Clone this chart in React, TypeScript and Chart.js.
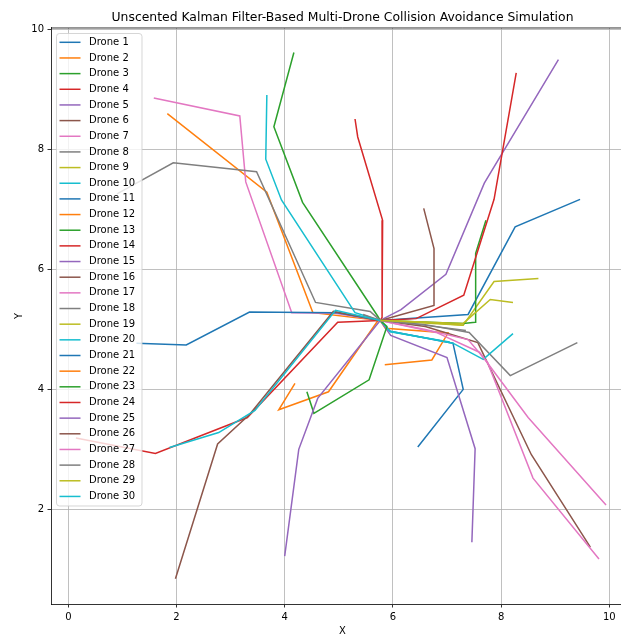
import React, { useEffect, useRef } from "react";
import { Chart, registerables } from "chart.js";

Chart.register(...registerables);

const TITLE = "Unscented Kalman Filter-Based Multi-Drone Collision Avoidance Simulation";
const X_LABEL = "X";
const Y_LABEL = "Y";
const xTicks = [0, 2, 4, 6, 8, 10];
const yTicks = [2, 4, 6, 8, 10];
const palette = ["#1f77b4", "#ff7f0e", "#2ca02c", "#d62728", "#9467bd", "#8c564b", "#e377c2", "#7f7f7f", "#bcbd22", "#17becf"];

// Trajectories (x, y)
const d1x = [6.46, 7.30, 7.11, 5.95, 5.765];
const d1y = [3.04, 4.00, 4.77, 4.97, 5.15];
const d2x = [1.83, 3.67, 4.52, 5.765];
const d2y = [8.60, 7.29, 5.28, 5.15];
const d3x = [4.17, 3.80, 4.33, 5.72, 5.765];
const d3y = [9.62, 8.38, 7.12, 5.22, 5.15];
const d4x = [5.30, 5.35, 5.81, 5.80, 5.765];
const d4y = [8.51, 8.21, 6.82, 5.20, 5.15];
const d5x = [5.765, 6.15, 6.98, 7.69, 9.06];
const d5y = [5.15, 5.33, 5.92, 7.44, 9.50];
const d6x = [6.57, 6.76, 6.76, 5.765];
const d6y = [7.02, 6.35, 5.40, 5.15];
const d7x = [1.58, 3.17, 3.28, 4.13, 4.93, 5.765];
const d7y = [8.86, 8.56, 7.46, 5.28, 5.27, 5.15];
const d8x = [0.90, 1.94, 3.48, 4.57, 5.58, 5.765];
const d8y = [7.26, 7.78, 7.63, 5.45, 5.30, 5.15];
const d9x = [5.765, 7.30, 7.87, 8.69];
const d9y = [5.15, 5.07, 5.80, 5.85];
const d10x = [3.67, 3.65, 3.94, 5.30, 5.765, 5.95, 7.05];
const d10y = [8.91, 7.84, 7.16, 5.28, 5.15, 4.96, 4.79];
const d11x = [5.765, 7.39, 8.26, 9.46];
const d11y = [5.15, 5.25, 6.71, 7.17];
const d12x = [5.765, 5.86, 7.02, 6.72, 5.85];
const d12y = [5.15, 5.02, 4.94, 4.49, 4.41];
const d13x = [5.765, 7.30, 7.52, 7.53, 7.72];
const d13y = [5.15, 5.10, 5.12, 6.27, 6.82];
const d14x = [5.765, 6.43, 7.31, 7.87, 8.28];
const d14y = [5.15, 5.18, 5.57, 7.17, 9.28];
const d15x = [5.765, 5.96, 7.00, 7.52, 7.46];
const d15y = [5.15, 4.90, 4.53, 3.01, 1.45];
const d16x = [5.765, 6.60, 7.57, 8.56, 9.65];
const d16y = [5.15, 5.05, 4.78, 2.91, 1.37];
const d17x = [5.765, 6.60, 7.39, 7.75, 8.59, 9.81];
const d17y = [5.15, 5.00, 4.83, 4.45, 2.52, 1.17];
const d18x = [5.765, 6.60, 7.41, 8.17, 9.41];
const d18y = [5.15, 5.08, 4.95, 4.23, 4.78];
const d19x = [5.765, 7.30, 7.80, 8.22];
const d19y = [5.15, 5.10, 5.50, 5.45];
const d20x = [5.765, 5.95, 7.11, 7.67, 8.22];
const d20y = [5.15, 4.97, 4.77, 4.50, 4.93];
const d21x = [1.26, 2.18, 3.35, 4.95, 5.765];
const d21y = [4.77, 4.74, 5.29, 5.28, 5.15];
const d22x = [4.19, 3.89, 4.81, 5.74];
const d22y = [4.10, 3.66, 3.96, 5.17];
const d23x = [4.41, 4.54, 5.56, 5.89, 5.765];
const d23y = [3.96, 3.60, 4.16, 5.05, 5.15];
const d24x = [0.14, 1.61, 3.31, 4.98, 5.765];
const d24y = [3.19, 2.93, 3.53, 5.12, 5.15];
const d25x = [4.00, 4.26, 4.61, 5.765];
const d25y = [1.22, 3.00, 3.85, 5.15];
const d26x = [1.98, 2.76, 3.35, 4.90, 5.765];
const d26y = [0.84, 3.09, 3.58, 5.30, 5.15];
const d27x = [5.765, 6.80, 7.60, 8.50, 9.94];
const d27y = [5.15, 4.95, 4.62, 3.53, 2.07];
const d28x = [5.45, 5.765, 6.50, 7.35];
const d28y = [5.25, 5.15, 5.08, 4.98];
const d29x = [5.765, 6.60, 7.30];
const d29y = [5.15, 5.12, 5.07];
const d30x = [1.87, 2.78, 3.45, 4.94, 5.765];
const d30y = [3.03, 3.28, 3.65, 5.32, 5.15];

const droneX = [d1x, d2x, d3x, d4x, d5x, d6x, d7x, d8x, d9x, d10x, d11x, d12x, d13x, d14x, d15x, d16x, d17x, d18x, d19x, d20x, d21x, d22x, d23x, d24x, d25x, d26x, d27x, d28x, d29x, d30x];
const droneY = [d1y, d2y, d3y, d4y, d5y, d6y, d7y, d8y, d9y, d10y, d11y, d12y, d13y, d14y, d15y, d16y, d17y, d18y, d19y, d20y, d21y, d22y, d23y, d24y, d25y, d26y, d27y, d28y, d29y, d30y];

const FONT = "'DejaVu Sans', sans-serif";

const mplPlugin = {
  id: "mplExtras",
  afterDraw(chart: any) {
    const ctx = chart.ctx;
    const ca = chart.chartArea;
    ctx.save();
    // top and right spines
    ctx.strokeStyle = "#000";
    ctx.lineWidth = 0.8;
    ctx.beginPath();
    ctx.moveTo(ca.left, ca.top);
    ctx.lineTo(ca.right, ca.top);
    ctx.lineTo(ca.right, ca.bottom);
    ctx.stroke();

    // legend
    const ds = chart.data.datasets;
    const left = 56.5, top = 33.5, w = 85.5, h = 472.5, r = 3;
    ctx.globalAlpha = 0.8;
    ctx.beginPath();
    ctx.moveTo(left + r, top);
    ctx.lineTo(left + w - r, top);
    ctx.arcTo(left + w, top, left + w, top + r, r);
    ctx.lineTo(left + w, top + h - r);
    ctx.arcTo(left + w, top + h, left + w - r, top + h, r);
    ctx.lineTo(left + r, top + h);
    ctx.arcTo(left, top + h, left, top + h - r, r);
    ctx.lineTo(left, top + r);
    ctx.arcTo(left, top, left + r, top, r);
    ctx.closePath();
    ctx.fillStyle = "#ffffff";
    ctx.fill();
    ctx.strokeStyle = "#cccccc";
    ctx.lineWidth = 1;
    ctx.stroke();
    ctx.globalAlpha = 1;
    const rowH = 15.66;
    const firstY = 42.3;
    ctx.font = `10px ${FONT}`;
    ctx.textBaseline = "middle";
    ctx.textAlign = "left";
    ds.forEach((d: any, i: number) => {
      const y = firstY + i * rowH;
      ctx.strokeStyle = d.borderColor;
      ctx.lineWidth = 1.5;
      ctx.beginPath();
      ctx.moveTo(59.5, y);
      ctx.lineTo(80.5, y);
      ctx.stroke();
      ctx.fillStyle = "#000";
      ctx.fillText(d.label, 89, y);
    });
    ctx.restore();
  },
};

export default function App() {
  const canvasRef = useRef<HTMLCanvasElement | null>(null);

  useEffect(() => {
    const canvas = canvasRef.current;
    if (!canvas) return;
    const datasets = droneX.map((xs, i) => ({
      label: `Drone ${i + 1}`,
      data: xs.map((x, j) => ({ x, y: droneY[i][j] })),
      showLine: true,
      borderColor: palette[i % 10],
      backgroundColor: palette[i % 10],
      borderWidth: 1.5,
      pointRadius: 0,
      pointHoverRadius: 0,
      fill: false,
      tension: 0,
      order: droneX.length - i,
    }));
    const tickFont = { family: FONT, size: 10 };
    const chart = new Chart(canvas, {
      type: "scatter",
      data: { datasets },
      options: {
        responsive: false,
        animation: false,
        devicePixelRatio: 1,
        events: [],
        layout: { padding: { left: 0, right: 6, top: 0, bottom: 0 } },
        plugins: {
          legend: { display: false },
          tooltip: { enabled: false },
          title: {
            display: true,
            text: TITLE,
            fullSize: false,
            color: "#000",
            font: { family: FONT, size: 12.4, weight: "normal", lineHeight: 1.2 },
            padding: { top: 10, bottom: 3.1 },
          },
        },
        scales: {
          x: {
            type: "linear",
            min: -0.32,
            max: 10.457,
            afterFit: (s: any) => { s.height = 36; },
            afterBuildTicks: (s: any) => { s.ticks = xTicks.map((v) => ({ value: v })); },
            ticks: { color: "#000", font: tickFont, padding: 3.5, maxRotation: 0, callback: (v: any) => String(v) },
            grid: { color: "#b0b0b0", lineWidth: 0.8, tickColor: "#000", tickLength: 3.5, tickWidth: 0.8 },
            border: { color: "#000", width: 0.8 },
            title: { display: true, text: X_LABEL, color: "#000", font: { family: FONT, size: 10, lineHeight: 1.2 }, padding: { top: 0, bottom: 3 } },
          },
          y: {
            type: "linear",
            min: 0.42,
            max: 10.028,
            afterFit: (s: any) => { s.width = 51; },
            afterBuildTicks: (s: any) => { s.ticks = yTicks.map((v) => ({ value: v })); },
            ticks: { color: "#000", font: tickFont, padding: 3.5, callback: (v: any) => String(v) },
            grid: { color: "#b0b0b0", lineWidth: 0.8, tickColor: "#000", tickLength: 3.5, tickWidth: 0.8 },
            border: { color: "#000", width: 0.8 },
            title: { display: true, text: Y_LABEL, color: "#000", font: { family: FONT, size: 10, lineHeight: 1.2 }, padding: { top: 13, bottom: 0 } },
          },
        },
      } as any,
      plugins: [mplPlugin],
    });
    return () => chart.destroy();
  }, []);

  return (
    <div style={{ position: "fixed", left: 0, top: 0, width: 621, height: 635, overflow: "hidden", background: "#fff" }}>
      <canvas ref={canvasRef} width={640} height={640} style={{ display: "block" }} />
    </div>
  );
}
